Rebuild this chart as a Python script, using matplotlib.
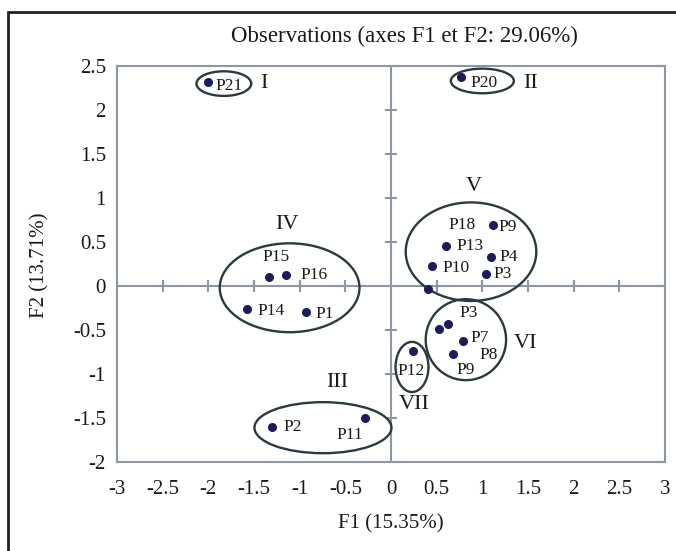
import matplotlib
matplotlib.use("Agg")
import matplotlib.pyplot as plt
from matplotlib.patches import Ellipse, Rectangle

plt.rcParams['font.family'] = ['Liberation Serif', 'DejaVu Serif']
plt.rcParams['axes.unicode_minus'] = False

# observation points (F1, F2)
obs_x = [-2.00, 0.77, 1.12, 0.60, 1.10, 0.45, 1.04, 0.40, 0.53, 0.62, 0.79, 0.68, 0.24,
         -1.34, -1.15, -1.58, -0.93, -1.30, -0.29]
obs_y = [2.32, 2.38, 0.69, 0.46, 0.33, 0.23, 0.14, -0.03, -0.49, -0.43, -0.63, -0.77, -0.74,
         0.10, 0.12, -0.26, -0.30, -1.60, -1.50]

# point labels and where they are written
point_labels = ['P21', 'P20', 'P18', 'P9', 'P13', 'P4', 'P10', 'P3',
                'P3', 'P7', 'P8', 'P9', 'P12',
                'P15', 'P16', 'P14', 'P1', 'P2', 'P11']
label_x = [-1.77, 1.02, 0.78, 1.28, 0.86, 1.29, 0.71, 1.22,
           0.85, 0.97, 1.07, 0.82, 0.22,
           -1.26, -0.84, -1.31, -0.73, -1.08, -0.45]
label_y = [2.27, 2.31, 0.69, 0.67, 0.45, 0.33, 0.20, 0.14,
           -0.31, -0.59, -0.78, -0.95, -0.97,
           0.33, 0.125, -0.28, -0.32, -1.60, -1.69]

# clusters (ellipses)
cluster_names = ['I', 'II', 'V', 'VI', 'VII', 'IV', 'III']
cluster_cx = [-1.83, 1.00, 0.876, 0.82, 0.23, -1.11, -0.745]
cluster_cy = [2.30, 2.33, 0.39, -0.61, -0.92, -0.02, -1.61]
cluster_w = [0.60, 0.69, 1.43, 0.88, 0.36, 1.53, 1.50]
cluster_h = [0.28, 0.28, 1.12, 0.92, 0.57, 1.01, 0.58]
cluster_label_x = [-1.39, 1.53, 0.91, 1.47, 0.25, -1.14, -0.59]
cluster_label_y = [2.30, 2.30, 1.13, -0.65, -1.35, 0.70, -1.10]

x_ticks = [-3, -2.5, -2, -1.5, -1, -0.5, 0, 0.5, 1, 1.5, 2, 2.5, 3]
x_tick_labels = ['-3', '-2.5', '-2', '-1.5', '-1', '-0.5', '0', '0.5', '1', '1.5', '2', '2.5', '3']
y_ticks = [-2, -1.5, -1, -0.5, 0, 0.5, 1, 1.5, 2, 2.5]
y_tick_labels = ['-2', '-1.5', '-1', '-0.5', '0', '0.5', '1', '1.5', '2', '2.5']

W, H = 676, 551
fig = plt.figure(figsize=(W / 100, H / 100), dpi=100)
ax = fig.add_axes([117 / W, 1 - 462 / H, (665 - 117) / W, (462 - 66) / H])

grey = '#8c97a3'
ax.set_xlim(-3, 3)
ax.set_ylim(-2, 2.5)
for s in ax.spines.values():
    s.set_color(grey)
    s.set_linewidth(1.5)
ax.set_xticks(x_ticks)
ax.set_xticklabels(x_tick_labels)
ax.set_yticks(y_ticks)
ax.set_yticklabels(y_tick_labels)
ax.tick_params(axis='both', length=0, labelsize=15, colors='#1a1a1a')
ax.tick_params(axis='x', pad=13)
ax.tick_params(axis='y', pad=8)

# centre axes with cross ticks
ax.axhline(0, color=grey, lw=1.5, zorder=1)
ax.axvline(0, color=grey, lw=1.5, zorder=1)
inner_x = [t for t in x_ticks if t not in (-3, 0, 3)]
inner_y = [t for t in y_ticks if t not in (-2, 0, 2.5)]
ax.plot(inner_x, [0] * len(inner_x), ls='none', marker='|', ms=8, mew=1.5, color=grey, zorder=1)
ax.plot([0] * len(inner_y), inner_y, ls='none', marker='_', ms=8, mew=1.5, color=grey, zorder=1)

# ellipses
for cx, cy, w, h in zip(cluster_cx, cluster_cy, cluster_w, cluster_h):
    ax.add_patch(Ellipse((cx, cy), w, h, fill=False, ec='#2b3a40', lw=1.7, zorder=2))

# points
ax.plot(obs_x, obs_y, ls='none', marker='o', ms=5.5, color='#1b1b5e', zorder=3)

for t, lx, ly in zip(point_labels, label_x, label_y):
    ax.text(lx, ly, t, ha='center', va='center', fontsize=12.5, color='#1a1a1a', zorder=4)

for t, lx, ly in zip(cluster_names, cluster_label_x, cluster_label_y):
    ax.text(lx, ly, t, ha='center', va='center', fontsize=16, color='#1a1a1a', zorder=4)

fig.text(404 / W, 1 - 36 / H, 'Observations (axes F1 et F2: 29.06%)', ha='center', va='center',
         fontsize=16.5, color='#1a1a1a')
fig.text(391 / W, 1 - 524 / H, 'F1 (15.35%)', ha='center', va='center', fontsize=15, color='#1a1a1a')
fig.text(40 / W, 1 - 265 / H, 'F2 (13.71%)', ha='center', va='center', rotation=90,
         fontsize=15, color='#1a1a1a')

# outer frame (right and bottom edges fall outside the picture)
fig.patches.append(Rectangle((8 / W, 1 - 700 / H), 800 / W, (700 - 12) / H,
                             transform=fig.transFigure, fill=False, ec='#222222', lw=2))

fig.savefig('out.png', dpi=100)
